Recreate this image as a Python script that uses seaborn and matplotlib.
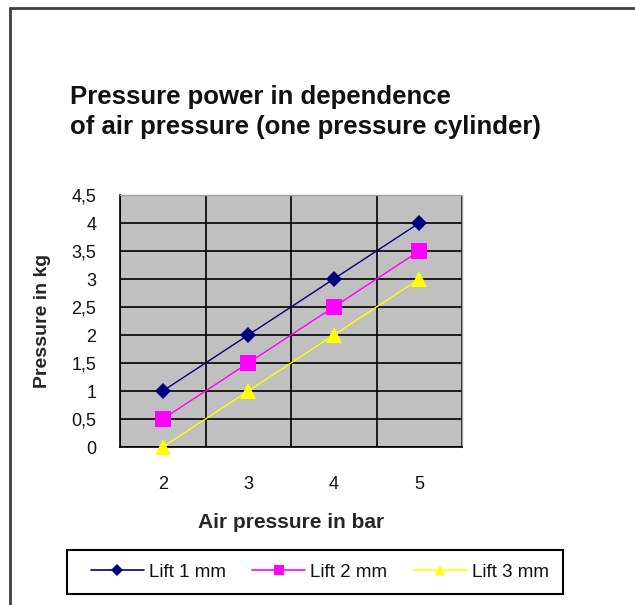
import seaborn as sns
import matplotlib.pyplot as plt
import pandas as pd
from matplotlib.patches import Rectangle
from matplotlib.lines import Line2D

air_pressure = [2, 3, 4, 5]
lift_1mm = [1, 2, 3, 4]
lift_2mm = [0.5, 1.5, 2.5, 3.5]
lift_3mm = [0, 1, 2, 3]
series_names = ['Lift 1 mm', 'Lift 2 mm', 'Lift 3 mm']
y_ticks = [0, 0.5, 1, 1.5, 2, 2.5, 3, 3.5, 4, 4.5]

df = pd.DataFrame({
    'Air pressure': air_pressure * 3,
    'Pressure': lift_1mm + lift_2mm + lift_3mm,
    'Series': [s for s in series_names for _ in air_pressure],
})

sns.set_style('white')
plt.rcParams['font.family'] = ['Liberation Sans', 'DejaVu Sans']
plt.rcParams['text.color'] = '#111111'

W, H = 635, 605
fig = plt.figure(figsize=(W / 100, H / 100), dpi=100)
ax = fig.add_axes([120 / W, (H - 447) / H, (462 - 120) / W, (447 - 195) / H])

colors = {'Lift 1 mm': '#000080', 'Lift 2 mm': '#FF00FF', 'Lift 3 mm': '#FFFF00'}
markers = {'Lift 1 mm': 'D', 'Lift 2 mm': 's', 'Lift 3 mm': '^'}
sizes = {'Lift 1 mm': 8, 'Lift 2 mm': 11, 'Lift 3 mm': 11}

ax.set_facecolor('#C0C0C0')
for name in series_names:
    sub = df[df['Series'] == name]
    sns.lineplot(data=sub, x='Air pressure', y='Pressure', ax=ax, color=colors[name],
                 marker=markers[name], markersize=sizes[name], markeredgewidth=0,
                 linewidth=1, legend=False, zorder=3, clip_on=False)

ax.set_xlim(1.5, 5.5)
ax.set_ylim(0, 4.5)
ax.set_xticks([1.5, 2.5, 3.5, 4.5, 5.5])
ax.set_xticklabels([])
ax.set_xticks(air_pressure, minor=True)
ax.set_xticklabels([str(v) for v in air_pressure], minor=True)
ax.tick_params(axis='x', which='minor', length=0, pad=21, labelsize=13, labelcolor='#111111')
ax.tick_params(axis='x', which='major', length=8, width=1.2, color='black', direction='out')
ax.set_yticks(y_ticks)
ax.set_yticklabels([('%g' % v).replace('.', ',') for v in y_ticks])
ax.tick_params(axis='y', length=7, width=1.2, color='black', direction='out', labelsize=13,
               pad=10, labelcolor='#111111')
ax.grid(True, color='black', linewidth=1.2, zorder=1)
ax.set_axisbelow(True)

for side in ['top', 'right']:
    ax.spines[side].set_color('#A0A0A0')
    ax.spines[side].set_linewidth(1)
for side in ['left', 'bottom']:
    ax.spines[side].set_color('black')
    ax.spines[side].set_linewidth(1.2)

ax.set_xlabel('Air pressure in bar', fontsize=15, fontweight='bold', labelpad=14)
ax.set_ylabel('Pressure in kg', fontsize=14, fontweight='bold', labelpad=15)

fig.text(70 / W, 1 - 85 / H, 'Pressure power in dependence\nof air pressure (one pressure cylinder)',
         fontsize=18.5, fontweight='bold', ha='left', va='top', linespacing=1.3)

# outer chart border (runs off the right and bottom edge)
fig.patches.append(Rectangle((10 / W, -0.1), 1.2, 1 - 8 / H + 0.1, transform=fig.transFigure,
                             fill=False, edgecolor='#404040', linewidth=2))
# legend box
fig.patches.append(Rectangle((67 / W, 1 - 594 / H), (563 - 67) / W, 44 / H,
                             transform=fig.transFigure, fill=False, edgecolor='black',
                             linewidth=1.5))

leg_sizes = {'Lift 1 mm': 6, 'Lift 2 mm': 7, 'Lift 3 mm': 7}
handles = [Line2D([], [], color=colors[n], marker=markers[n], markersize=leg_sizes[n],
                  markeredgewidth=0, linewidth=1.2) for n in series_names]
leg = fig.legend(handles, series_names, loc='center', ncol=3,
                 bbox_to_anchor=(320 / W, 1 - 572 / H), frameon=False,
                 fontsize=13.5, handlelength=2.8, columnspacing=1.4,
                 borderpad=0.5, handletextpad=0.3, borderaxespad=0)

fig.savefig('out.png', dpi=100, facecolor='white')
